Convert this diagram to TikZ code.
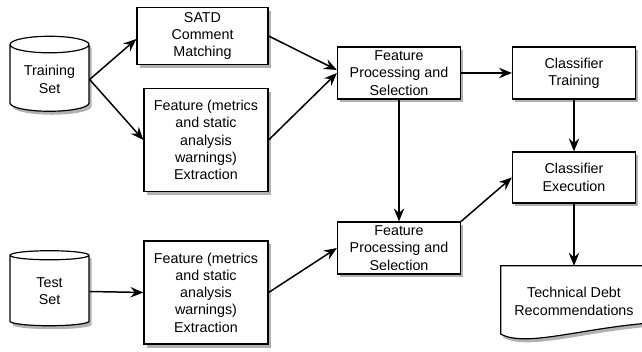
\documentclass[tikz,border=0pt]{standalone}
\usepackage{fontspec}
\setmainfont{Liberation Sans}
\usetikzlibrary{shapes.geometric,arrows.meta,shadows,calc,backgrounds}

\begin{document}
\begin{tikzpicture}[   % opciones por defecto
      x=1pt, y=-1pt,     % coordenadas en pixeles, y hacia abajo
      draw=black,        % linea negra
      font=\fontsize{14.3}{17.3}\selectfont
    ]
    \tikzstyle{sombra}=[drop shadow={shadow xshift=2.5pt, shadow yshift=-3.5pt,
      fill=black!60, opacity=0.5}];
    \tikzstyle{proc}=[draw, line width=1.2pt, rectangle, fill=white, align=center,
      inner sep=2pt, minimum width=123, minimum height=52, sombra];
    \tikzstyle{datos}=[draw, line width=1.2pt, cylinder, shape border rotate=90,
      aspect=0.3, fill=white, align=center, inner sep=2pt,
      minimum width=79, minimum height=75, sombra];
    \tikzstyle{flecha}=[line width=1.5pt, -{Stealth[length=13pt,width=10.5pt,inset=4.5pt]}];
    %
    \useasboundingbox (0,0) rectangle (642,352);
    %
    % conjuntos de datos
    \node [datos] (train) at (49.5,79.5) {Training\\Set};
    \node [datos] (test)  at (49.5,291.5) {Test\\Set};
    %
    % extraccion
    \node [proc, minimum width=131, minimum height=57] (satd) at (202.5,36)
      {SATD\\Comment\\Matching};
    \node [proc, minimum width=124, minimum height=103] (feat1) at (206,140)
      {Feature (metrics\\and static\\analysis\\warnings)\\Extraction};
    \node [proc, minimum width=124, minimum height=103] (feat2) at (206,292.5)
      {Feature (metrics\\and static\\analysis\\warnings)\\Extraction};
    %
    % procesamiento de atributos
    \node [proc] (fps1) at (399,73)  {Feature\\Processing and\\Selection};
    \node [proc] (fps2) at (399,248) {Feature\\Processing and\\Selection};
    %
    % clasificador
    \node [proc] (ctrain) at (574,73) {Classifier\\Training};
    \node [proc, minimum height=51] (cexec) at (574,177.5)
      {Classifier\\Execution};
    %
    % documento de salida
    \node [align=center, minimum width=146, minimum height=71] (td) at (574,301.5)
      {Technical Debt\\Recommendations};
    \begin{pgfonlayer}{background}
      \draw [line width=1.2pt, fill=white, sombra] (td.north west) -- (td.north east)
        -- ($(td.south east)+(0,-14)$)
        .. controls ($(td.south east)+(-70,-8)$) and ($(td.south west)+(25,10)$)
        .. ($(td.south west)+(0,-3)$) -- cycle;
    \end{pgfonlayer}
    %
    % conexiones
    \foreach \a/\b in {train.east/feat1.west,
                       test.east/feat2.west, feat1.east/fps1.west,
                       feat2.east/fps2.west, fps1.east/ctrain.west,
                       fps1.south/fps2.north, ctrain.south/cexec.north,
                       fps2.north east/cexec.west, cexec.south/td.north} {
      \draw[flecha] (\a) -- (\b);
    }
    \draw[flecha] (train.east) -- ([yshift=-3pt]satd.west);
    \draw[flecha] (satd.east) -- ([yshift=3pt]fps1.west);
\end{tikzpicture}
\end{document}
